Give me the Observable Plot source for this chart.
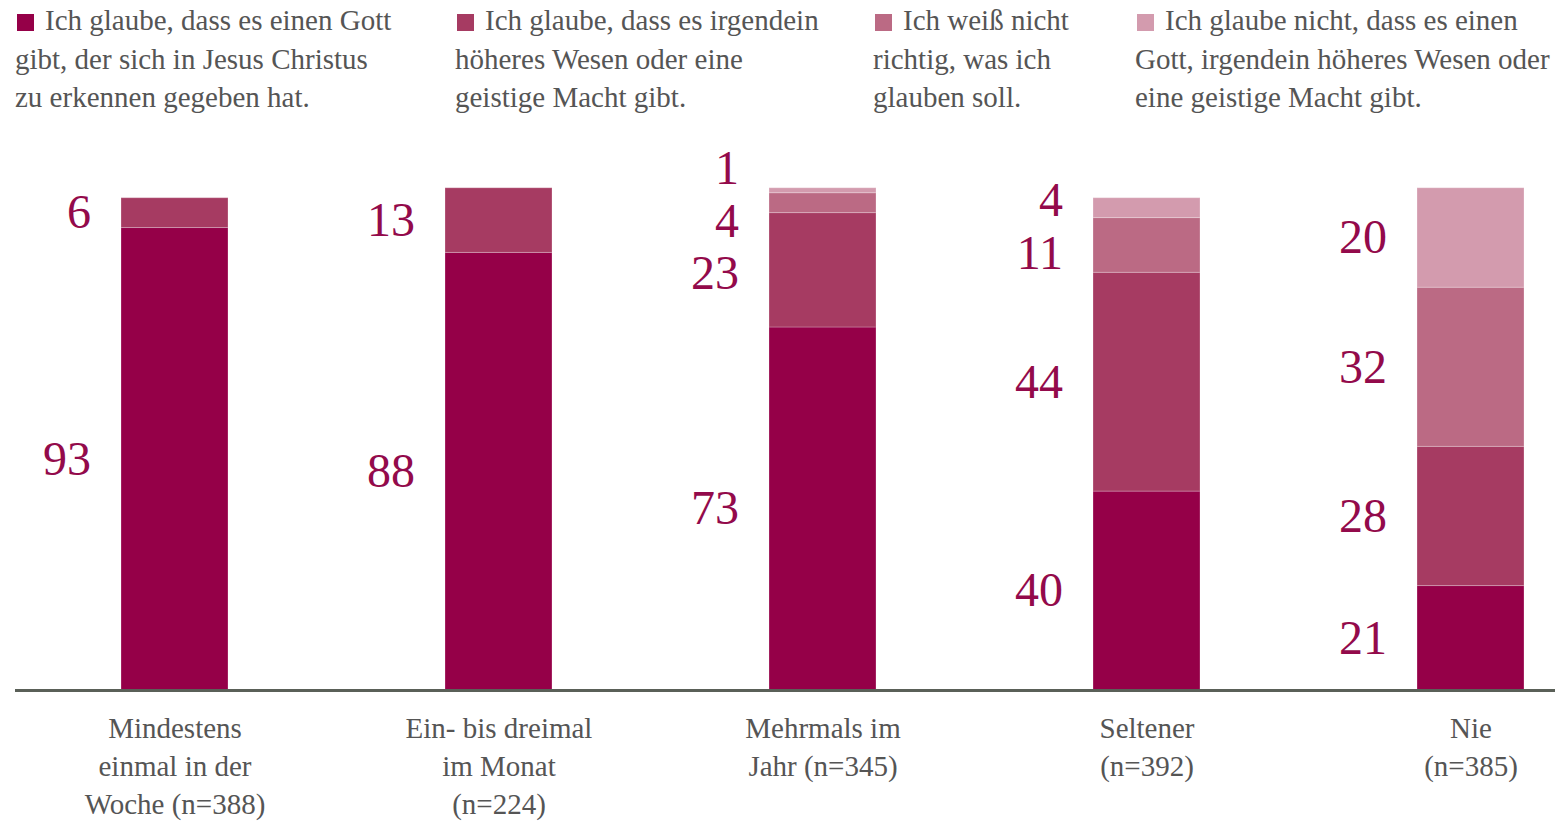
<!DOCTYPE html>
<html>
<head>
<meta charset="utf-8">
<script src="https://cdn.jsdelivr.net/npm/d3@7"></script>
<script src="https://cdn.jsdelivr.net/npm/@observablehq/plot@0.6"></script>
<style>
  html, body { margin: 0; padding: 0; background: #fff; }
  #wrap { position: relative; width: 1560px; height: 822px; font-family: "Liberation Serif", serif; }
  #legend { position: relative; width: 1560px; height: 130px; }
  .item { position: absolute; top: 1px; font-size: 29px; line-height: 38.5px; color: #555; white-space: pre-line; }
  .sw { display: inline-block; width: 17px; height: 17px; margin-left: 2px; margin-right: 11px; vertical-align: -1px; }
</style>
</head>
<body>
<div id="wrap">
  <div id="legend"></div>
  <div id="chart"></div>
</div>
<script>
// ---- data ----
const categories = ["Mindestens einmal in der Woche", "Ein- bis dreimal im Monat", "Mehrmals im Jahr", "Seltener", "Nie"];
const tickLabels = ["Mindestens\neinmal in der\nWoche (n=388)", "Ein- bis dreimal\nim Monat\n(n=224)", "Mehrmals im\nJahr (n=345)", "Seltener\n(n=392)", "Nie\n(n=385)"];
const series = [
  "Ich glaube, dass es einen Gott gibt, der sich in Jesus Christus zu erkennen gegeben hat.",
  "Ich glaube, dass es irgendein höheres Wesen oder eine geistige Macht gibt.",
  "Ich weiß nicht richtig, was ich glauben soll.",
  "Ich glaube nicht, dass es einen Gott, irgendein höheres Wesen oder eine geistige Macht gibt."
];
const legendLines = [
  "Ich glaube, dass es einen Gott\ngibt, der sich in Jesus Christus\nzu erkennen gegeben hat.",
  "Ich glaube, dass es irgendein\nhöheres Wesen oder eine\ngeistige Macht gibt.",
  "Ich weiß nicht\nrichtig, was ich\nglauben soll.",
  "Ich glaube nicht, dass es einen\nGott, irgendein höheres Wesen oder\neine geistige Macht gibt."
];
const glaubeGott    = [93, 88, 73, 40, 21];
const hoeheresWesen = [6, 13, 23, 44, 28];
const weissNicht    = [0, 0, 4, 11, 32];
const glaubeNicht   = [0, 0, 1, 4, 20];
const seriesValues = [glaubeGott, hoeheresWesen, weissNicht, glaubeNicht];
const colors = ["#950048", "#a63b62", "#bb6a84", "#d39bae"];

// ---- legend ----
const legendLeft = [15, 455, 873, 1135];
const legend = document.getElementById("legend");
legendLines.forEach((t, i) => {
  const d = document.createElement("div");
  d.className = "item";
  d.style.left = legendLeft[i] + "px";
  const sw = document.createElement("span");
  sw.className = "sw";
  sw.style.background = colors[i];
  d.appendChild(sw);
  d.appendChild(document.createTextNode(t));
  legend.appendChild(d);
});

// ---- table ----
const rows = [];
series.forEach((s, i) => categories.forEach((c, j) => rows.push({cat: c, series: s, value: seriesValues[i][j]})));

// value labels at segment middles, spread apart when too close
const labels = [];
categories.forEach((c, j) => {
  let cum = 0;
  const items = [];
  seriesValues.forEach(vals => {
    const v = vals[j];
    if (v > 0) items.push({cat: c, value: v, y: cum + v / 2});
    cum += v;
  });
  const minGap = 10.6;
  for (let it = 0; it < 40; it++) {
    for (let k = 0; k < items.length - 1; k++) {
      const gap = items[k + 1].y - items[k].y;
      if (gap < minGap) {
        const m = (items[k].y + items[k + 1].y) / 2;
        items[k].y = m - minGap / 2;
        items[k + 1].y = m + minGap / 2;
      }
    }
  }
  labels.push(...items);
});

const chart = Plot.plot({
  width: 1560,
  height: 692,
  marginLeft: 15,
  marginRight: 5,
  marginTop: 13,
  marginBottom: 132,
  style: {fontFamily: "Liberation Serif, serif", fontSize: "29px", color: "#555", background: "#fff"},
  x: {domain: categories, paddingInner: 0.67, paddingOuter: 0.208, align: 0.774, label: null},
  y: {domain: [0, 110], axis: null},
  color: {domain: series, range: colors},
  marks: [
    Plot.barY(rows, {x: "cat", y: "value", fill: "series", stroke: "#fff", strokeOpacity: 0.25, strokeWidth: 1}),
    Plot.ruleY([0], {stroke: "#5a6058", strokeWidth: 3}),
    Plot.text(labels, {x: "cat", y: "y", text: d => String(d.value), textAnchor: "end", dx: -84, fontSize: 48, fill: "#930a4b"}),
    Plot.axisX({tickSize: 0, tickPadding: 21, lineHeight: 1.31, label: null, tickFormat: d => tickLabels[categories.indexOf(d)]})
  ]
});
document.getElementById("chart").appendChild(chart);
</script>
</body>
</html>
